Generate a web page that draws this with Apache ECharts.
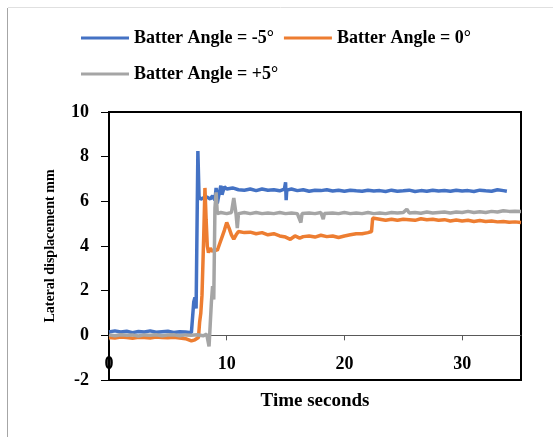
<!DOCTYPE html>
<html>
<head>
<meta charset="utf-8">
<script src="https://cdn.jsdelivr.net/npm/echarts@6/dist/echarts.min.js"></script>
<style>
  html, body { margin: 0; padding: 0; background: #fff; }
  #chart { width: 553px; height: 437px; }
</style>
</head>
<body>
<div id="chart"></div>
<script>
// series names
const seriesNames = ['Batter Angle = -5°', 'Batter Angle = 0°', 'Batter Angle = +5°']

// [time s, lateral displacement mm]
const angleMinus5 = [
  [0, 0.15], [0.5, 0.2], [1, 0.15], [1.5, 0.18], [2, 0.12], [2.5, 0.17], [3, 0.15], [3.5, 0.2],
  [4, 0.14], [4.5, 0.16], [5, 0.18], [5.5, 0.13], [6, 0.16], [6.5, 0.15], [7, 0.12], [7.1, 0.2],
  [7.2, 1.5], [7.3, 1.7], [7.4, 1.2], [7.55, 8.25], [7.65, 6.2], [7.8, 6.1], [8, 6.15], [8.3, 6.2],
  [8.6, 6.1], [8.8, 6.25], [9, 6.05], [9.1, 6.6], [9.2, 5.9], [9.3, 6.2], [9.5, 6.7], [9.6, 6.3],
  [9.8, 6.65], [10, 6.55], [10.5, 6.6], [11, 6.52], [11.5, 6.5], [12, 6.55], [12.5, 6.48],
  [13, 6.55], [13.5, 6.5], [14, 6.52], [14.5, 6.47], [14.9, 6.55], [15, 6.85], [15.05, 6.05],
  [15.1, 6.5], [15.5, 6.55], [16, 6.48], [16.5, 6.52], [17, 6.45], [17.5, 6.5], [18, 6.48],
  [18.5, 6.52], [19, 6.46], [19.5, 6.5], [20, 6.45], [20.5, 6.5], [21, 6.47], [21.5, 6.45],
  [22, 6.5], [22.5, 6.46], [23, 6.48], [23.5, 6.44], [24, 6.5], [24.5, 6.45], [25, 6.47],
  [25.5, 6.5], [26, 6.44], [26.5, 6.48], [27, 6.45], [27.5, 6.5], [28, 6.46], [28.5, 6.48],
  [29, 6.45], [29.5, 6.5], [30, 6.46], [30.5, 6.48], [31, 6.44], [31.5, 6.5], [32, 6.47],
  [32.5, 6.45], [33, 6.52], [33.5, 6.48], [33.8, 6.45]
]

const angleZero = [
  [0, -0.1], [0.5, -0.12], [1, -0.08], [1.5, -0.1], [2, -0.13], [2.5, -0.09], [3, -0.1],
  [3.5, -0.12], [4, -0.08], [4.5, -0.1], [5, -0.11], [5.5, -0.09], [6, -0.12], [6.5, -0.15],
  [7, -0.25], [7.3, -0.2], [7.6, -0.1], [7.7, 0.6], [7.8, 1.0], [7.9, 1.8], [8.05, 4.5],
  [8.15, 6.6], [8.25, 5.2], [8.35, 4.0], [8.45, 3.7], [8.6, 3.9], [8.8, 3.75], [9, 3.85],
  [9.2, 3.8], [9.4, 4.1], [9.6, 4.4], [9.8, 4.7], [10, 5.05], [10.2, 4.8], [10.4, 4.5],
  [10.6, 4.3], [10.8, 4.5], [11, 4.65], [11.5, 4.6], [12, 4.62], [12.5, 4.55], [13, 4.6],
  [13.5, 4.5], [14, 4.55], [14.5, 4.45], [15, 4.4], [15.4, 4.3], [15.8, 4.45], [16.2, 4.35],
  [16.5, 4.42], [17, 4.45], [17.5, 4.4], [18, 4.48], [18.5, 4.42], [19, 4.45], [19.5, 4.38],
  [20, 4.45], [20.5, 4.5], [21, 4.55], [21.5, 4.55], [22, 4.6], [22.3, 4.65], [22.4, 5.25],
  [23, 5.2], [23.5, 5.15], [24, 5.2], [24.5, 5.15], [25, 5.2], [25.5, 5.18], [26, 5.15],
  [26.5, 5.22], [27, 5.18], [27.5, 5.2], [28, 5.15], [28.5, 5.18], [29, 5.12], [29.5, 5.16],
  [30, 5.12], [30.5, 5.15], [31, 5.1], [31.5, 5.14], [32, 5.1], [32.5, 5.12], [33, 5.08],
  [33.5, 5.1], [34, 5.06], [34.5, 5.08], [35, 5.05]
]

const anglePlus5 = [
  [0, 0.02], [0.5, -0.02], [1, 0.03], [1.5, 0.0], [2, 0.02], [2.5, -0.03], [3, 0.02], [3.5, 0.0],
  [4, 0.03], [4.5, -0.02], [5, 0.01], [5.5, 0.03], [6, -0.02], [6.5, 0.02], [7, 0.0], [7.5, 0.03],
  [8, -0.02], [8.3, 0.05], [8.5, -0.5], [8.6, 0.5], [8.7, 1.5], [8.8, 2.2], [8.9, 1.6],
  [9, 5.7], [9.1, 6.4], [9.2, 5.45], [9.5, 5.5], [10, 5.45], [10.4, 5.5], [10.6, 6.15],
  [10.8, 5.4], [10.9, 4.8], [11, 5.45], [11.5, 5.5], [12, 5.45], [12.5, 5.5], [13, 5.45],
  [13.5, 5.48], [14, 5.45], [14.5, 5.5], [15, 5.45], [15.5, 5.48], [16, 5.45], [16.3, 5.05],
  [16.4, 5.45], [17, 5.48], [17.5, 5.45], [18, 5.5], [18.2, 5.2], [18.3, 5.45], [19, 5.48],
  [19.5, 5.45], [20, 5.5], [20.5, 5.45], [21, 5.48], [21.5, 5.45], [22, 5.5], [22.5, 5.45],
  [23, 5.48], [23.5, 5.45], [24, 5.5], [24.5, 5.48], [25, 5.5], [25.3, 5.65], [25.5, 5.48],
  [26, 5.5], [26.5, 5.47], [27, 5.52], [27.5, 5.48], [28, 5.5], [28.5, 5.52], [29, 5.48],
  [29.5, 5.52], [30, 5.5], [30.5, 5.55], [31, 5.5], [31.5, 5.53], [32, 5.5], [32.5, 5.55],
  [33, 5.52], [33.5, 5.58], [34, 5.55], [34.5, 5.56], [35, 5.55]
]

const colors = ['#4472c4', '#ed7d31', '#a5a5a5']

const chart = echarts.init(document.getElementById('chart'))

const serif = 'Liberation Serif'
const legendText = { fontFamily: serif, fontWeight: 'bold', fontSize: 18, color: '#000' }

const makeLine = (name, data, color) => ({
  name,
  type: 'line',
  data,
  symbol: 'none',
  showSymbol: false,
  animation: false,
  lineStyle: { color, width: 3.5 },
  itemStyle: { color }
})

const option = {
  animation: false,
  color: colors,
  graphic: [
    { type: 'line', shape: { x1: 7.5, y1: 8, x2: 7.5, y2: 437 }, style: { stroke: '#a6a6a6', lineWidth: 1 } },
    { type: 'line', shape: { x1: 8, y1: 7.5, x2: 553, y2: 7.5 }, style: { stroke: '#e0e0e0', lineWidth: 1 } }
  ],
  legend: [
    {
      data: [seriesNames[0], seriesNames[1]],
      left: 76,
      top: 24,
      icon: 'rect',
      itemWidth: 48,
      itemHeight: 3,
      itemGap: 10,
      textStyle: legendText
    },
    {
      data: [seriesNames[2]],
      left: 76,
      top: 60,
      icon: 'rect',
      itemWidth: 48,
      itemHeight: 3,
      textStyle: legendText
    }
  ],
  grid: {
    left: 109,
    right: 32,
    top: 112,
    bottom: 57,
    outerBoundsMode: 'none',
    show: true,
    borderColor: '#000',
    borderWidth: 2
  },
  xAxis: {
    type: 'value',
    min: 0,
    max: 35,
    interval: 10,
    name: 'Time seconds',
    nameLocation: 'middle',
    nameGap: 12,
    nameTextStyle: { fontFamily: serif, fontWeight: 'bold', fontSize: 19, color: '#000' },
    axisLine: { onZero: true, lineStyle: { color: '#595959', width: 1 } },
    axisTick: { show: true, length: 5, lineStyle: { color: '#595959' } },
    axisLabel: {
      inside: true,
      margin: 7,
      fontFamily: serif,
      fontWeight: 'bold',
      fontSize: 18,
      color: '#000',
      showMaxLabel: false
    },
    splitLine: { show: false }
  },
  yAxis: {
    type: 'value',
    min: -2,
    max: 10,
    interval: 2,
    name: 'Lateral displacement mm',
    nameLocation: 'middle',
    nameGap: 52,
    nameTextStyle: { fontFamily: serif, fontWeight: 'bold', fontSize: 14, color: '#000' },
    axisLine: { show: true, onZero: false, lineStyle: { color: '#000', width: 2 } },
    axisTick: { show: true, length: 8, lineStyle: { color: '#000' } },
    axisLabel: { margin: 20, fontFamily: serif, fontWeight: 'bold', fontSize: 18, color: '#000' },
    splitLine: { show: false }
  },
  series: [
    makeLine(seriesNames[0], angleMinus5, colors[0]),
    makeLine(seriesNames[1], angleZero, colors[1]),
    makeLine(seriesNames[2], anglePlus5, colors[2])
  ]
}

chart.setOption(option)
</script>
</body>
</html>
